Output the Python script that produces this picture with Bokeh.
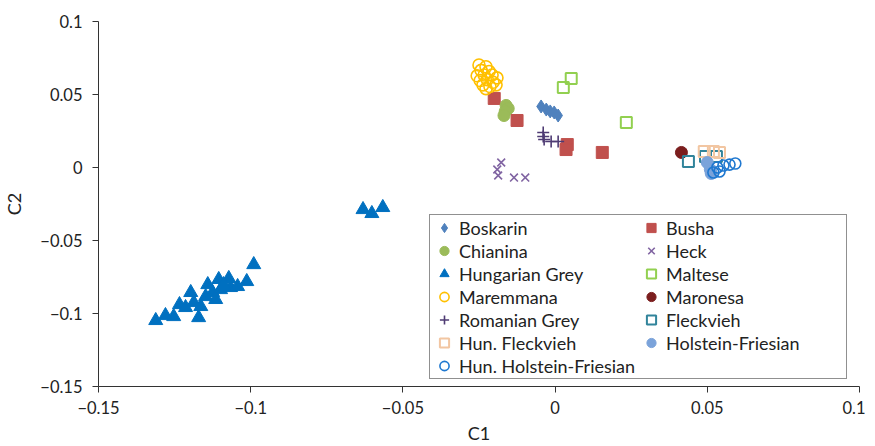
from bokeh.plotting import figure
from bokeh.models import FixedTicker, Legend, LegendItem
from bokeh.embed import file_html
from bokeh.resources import INLINE

# ---- data (C1, C2 coordinates per breed) ----
boskarin_x = [-0.0046, -0.0029, -0.0016, -0.0003, 0.0010]
boskarin_y = [0.0418, 0.0397, 0.0384, 0.0377, 0.0356]

busha_x = [-0.0200, -0.0125, 0.0040, 0.0036, 0.0155]
busha_y = [0.0473, 0.0322, 0.0157, 0.0123, 0.0103]

chianina_x = [-0.0161, -0.0154, -0.0164, -0.0168]
chianina_y = [0.0425, 0.0404, 0.0384, 0.0356]

heck_x = [-0.0177, -0.0190, -0.0187, -0.0135, -0.0098]
heck_y = [0.0034, -0.0014, -0.0055, -0.0069, -0.0069]

hungrey_x = [-0.1312, -0.1280, -0.1253, -0.1234, -0.1197, -0.1187, -0.1171, -0.1148,
             -0.1141, -0.1125, -0.1105, -0.1099, -0.1072, -0.1066, -0.1043, -0.1013,
             -0.0990, -0.1214, -0.1164, -0.1115, -0.1089,
             -0.0631, -0.0602, -0.0566]
hungrey_y = [-0.1048, -0.1014, -0.1021, -0.0939, -0.0856, -0.0925, -0.1028, -0.0884,
             -0.0802, -0.0856, -0.0767, -0.0836, -0.0760, -0.0822, -0.0815, -0.0781,
             -0.0665, -0.0959, -0.0952, -0.0904, -0.0802,
             -0.0288, -0.0315, -0.0274]

maltese_x = [0.0027, 0.0053, 0.0234]
maltese_y = [0.0548, 0.0610, 0.0308]

maremmana_x = [-0.0250, -0.0227, -0.0243, -0.0217, -0.0256, -0.0233, -0.0207, -0.0191,
               -0.0246, -0.0223, -0.0204, -0.0237, -0.0214, -0.0194, -0.0227]
maremmana_y = [0.0702, 0.0690, 0.0665, 0.0658, 0.0628, 0.0634, 0.0634, 0.0614,
               0.0596, 0.0602, 0.0584, 0.0566, 0.0555, 0.0566, 0.0540]

maronesa_x = [0.0415]
maronesa_y = [0.0103]

romgrey_x = [-0.0039, -0.0039, -0.0036, -0.0013, 0.0010]
romgrey_y = [0.0240, 0.0212, 0.0192, 0.0178, 0.0178]

fleck_x = [0.0438, 0.0494, 0.0530]
fleck_y = [0.0041, 0.0075, 0.0075]

hunfleck_x = [0.0490, 0.0520, 0.0540]
hunfleck_y = [0.0110, 0.0110, 0.0103]

holstein_x = [0.0500, 0.0510, 0.0513]
holstein_y = [0.0034, -0.0014, -0.0041]

hunholstein_x = [0.0520, 0.0533, 0.0553, 0.0573, 0.0592, 0.0540]
hunholstein_y = [-0.0034, 0.0000, 0.0014, 0.0020, 0.0027, -0.0027]

ticks = [-0.15, -0.1, -0.05, 0, 0.05, 0.1]
tick_labels = ["\u22120.15", "\u22120.1", "\u22120.05", "0", "0.05", "0.1"]

FONT = "Lato"

p = figure(frame_width=761, frame_height=365, x_range=(-0.15, 0.1), y_range=(-0.15, 0.1),
           output_backend="svg", toolbar_location=None,
           min_border_left=94, min_border_top=21, min_border_right=6, min_border_bottom=53)
p.outline_line_color = None
p.grid.visible = False
p.background_fill_color = "white"

for ax in (p.xaxis[0], p.yaxis[0]):
    ax.ticker = FixedTicker(ticks=ticks)
    ax.major_label_overrides = {t: l for t, l in zip(ticks, tick_labels)}
    ax.major_label_text_font = FONT
    ax.major_label_text_font_size = "16.5px"
    ax.major_label_text_color = "#222222"
    ax.axis_label_text_font = FONT
    ax.axis_label_text_font_size = "18px"
    ax.axis_label_text_font_style = "normal"
    ax.axis_label_text_color = "#222222"
    ax.axis_line_color = "#333333"
    ax.major_tick_line_color = "#333333"
    ax.major_tick_in = 0
    ax.major_tick_out = 6
    ax.minor_tick_line_color = None
p.xaxis.axis_label = "C1"
p.yaxis.axis_label = "C2"
p.xaxis.major_label_standoff = 8
p.yaxis.major_label_standoff = 10
p.xaxis.axis_label_standoff = 5
p.yaxis.axis_label_standoff = 12

r_bos = p.scatter(boskarin_x, boskarin_y, marker="diamond", size=13,
                  fill_color="#4F81BD", line_color="#4F81BD")
r_bus = p.scatter(busha_x, busha_y, marker="square", size=12,
                  fill_color="#C0504D", line_color="#C0504D")
r_chi = p.scatter(chianina_x, chianina_y, marker="circle", size=12,
                  fill_color="#9BBB59", line_color="#9BBB59")
r_hec = p.scatter(heck_x, heck_y, marker="x", size=11,
                  line_color="#8064A2", line_width=1.6)
r_hun = p.scatter(hungrey_x, hungrey_y, marker="triangle", size=14,
                  fill_color="#0070C0", line_color="#0070C0")
r_mal = p.scatter(maltese_x, maltese_y, marker="square", size=11,
                  fill_color=None, line_color="#92D050", line_width=2)
r_mar = p.scatter(maremmana_x, maremmana_y, marker="circle", size=12,
                  fill_color=None, line_color="#FFC000", line_width=1.6)
r_mrn = p.scatter(maronesa_x, maronesa_y, marker="circle", size=12,
                  fill_color="#7B1E1E", line_color="#7B1E1E")
r_rom = p.scatter(romgrey_x, romgrey_y, marker="cross", size=12,
                  line_color="#4E3B73", line_width=1.6)
r_fle = p.scatter(fleck_x, fleck_y, marker="square", size=11,
                  fill_color=None, line_color="#31849B", line_width=2)
r_hfl = p.scatter(hunfleck_x, hunfleck_y, marker="square", size=11,
                  fill_color=None, line_color="#F2C6A2", line_width=2)
r_hol = p.scatter(holstein_x, holstein_y, marker="circle", size=12,
                  fill_color="#7BA3DA", line_color="#7BA3DA")
r_hho = p.scatter(hunholstein_x, hunholstein_y, marker="circle", size=11,
                  fill_color=None, line_color="#1F78D0", line_width=1.6)

items = [
    LegendItem(label="Boskarin", renderers=[r_bos]),
    LegendItem(label="Chianina", renderers=[r_chi]),
    LegendItem(label="Hungarian Grey", renderers=[r_hun]),
    LegendItem(label="Maremmana", renderers=[r_mar]),
    LegendItem(label="Romanian Grey", renderers=[r_rom]),
    LegendItem(label="Hun. Fleckvieh", renderers=[r_hfl]),
    LegendItem(label="Hun. Holstein-Friesian", renderers=[r_hho]),
    LegendItem(label="Busha", renderers=[r_bus]),
    LegendItem(label="Heck", renderers=[r_hec]),
    LegendItem(label="Maltese", renderers=[r_mal]),
    LegendItem(label="Maronesa", renderers=[r_mrn]),
    LegendItem(label="Fleckvieh", renderers=[r_fle]),
    LegendItem(label="Holstein-Friesian", renderers=[r_hol]),
]
legend = Legend(items=items, location=(331, 7), ncols=2, orientation="vertical",
                padding=1, spacing=0, margin=0,
                glyph_width=26, glyph_height=23, label_height=20, label_width=179,
                label_standoff=2,
                label_text_font=FONT, label_text_font_size="18px",
                label_text_color="#222222",
                border_line_color="#222222", border_line_width=1.5,
                background_fill_color="white", background_fill_alpha=1.0)
p.add_layout(legend)

open("out.html", "w").write(file_html(p, INLINE))
